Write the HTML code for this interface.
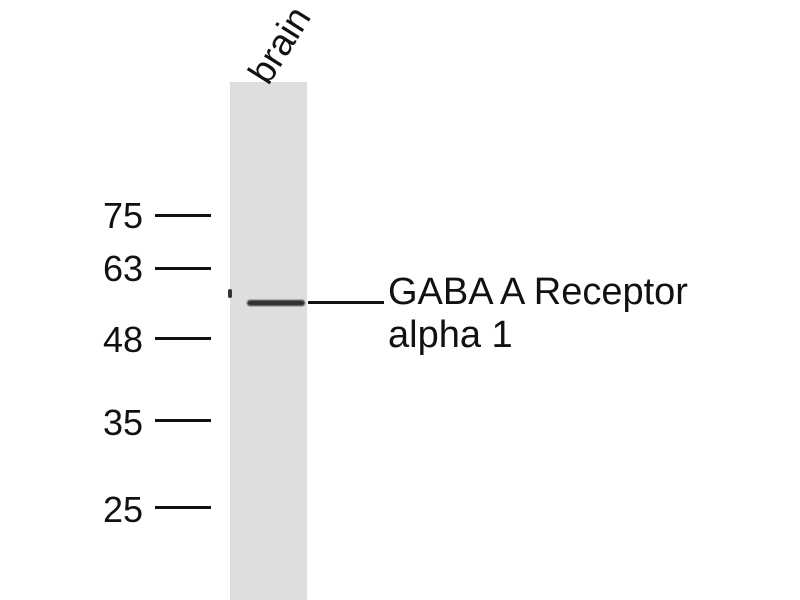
<!DOCTYPE html>
<html><head><style>
body{margin:0;width:800px;height:600px;background:#fff;position:relative;overflow:hidden;font-family:"Liberation Sans",sans-serif;}
.t{position:absolute;font-size:37px;color:#111;line-height:1;}
.n{position:absolute;font-size:36px;color:#111;line-height:1;}
.l{position:absolute;height:3px;background:#111;}
</style></head><body>
<div style="position:absolute;left:230px;top:82px;width:77px;height:518px;background:#dedede"></div>
<div style="position:absolute;left:247px;top:300px;width:58px;height:6px;background:#333;border-radius:3px;filter:blur(0.8px)"></div>
<div style="position:absolute;left:228px;top:289px;width:4px;height:9px;background:#333;border-radius:2px"></div>
<div class="l" style="left:308px;top:301px;width:76px"></div>
<div class="t" style="left:388px;top:273px;font-size:38px">GABA A Receptor</div>
<div class="t" style="left:388px;top:316px;font-size:38px">alpha 1</div>
<div class="t" style="left:242px;top:70px;transform:rotate(-58deg);transform-origin:0 0">brain</div>
<div class="n" style="left:103px;top:198px">75</div><div class="l" style="left:155px;top:214px;width:56px"></div>
<div class="n" style="left:103px;top:251px">63</div><div class="l" style="left:155px;top:267px;width:56px"></div>
<div class="n" style="left:103px;top:322px">48</div><div class="l" style="left:155px;top:337px;width:56px"></div>
<div class="n" style="left:103px;top:405px">35</div><div class="l" style="left:155px;top:419px;width:56px"></div>
<div class="n" style="left:103px;top:492px">25</div><div class="l" style="left:155px;top:506px;width:56px"></div>
</body></html>
